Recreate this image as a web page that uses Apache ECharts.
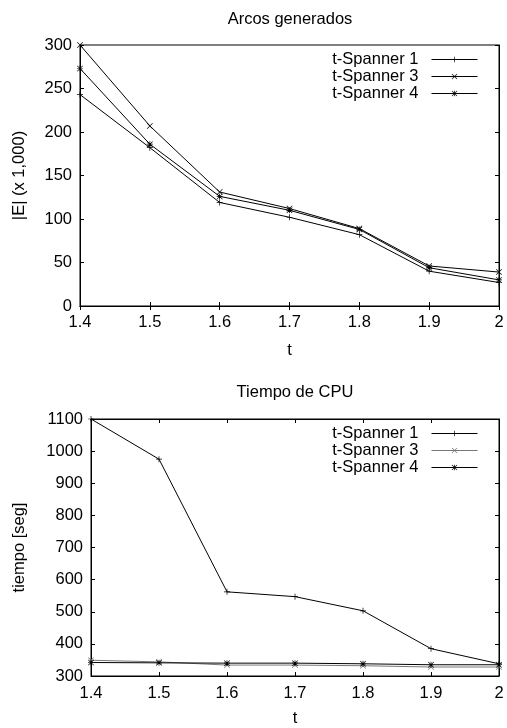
<!DOCTYPE html>
<html><head><meta charset="utf-8">
<script src="https://cdn.jsdelivr.net/npm/echarts@6/dist/echarts.min.js"></script>
<style>html,body{margin:0;padding:0;background:#fff}#c{width:507px;height:728px}</style>
</head><body><div id="c"></div>
<script>
const tValues = ['1.4','1.5','1.6','1.7','1.8','1.9','2'];
const seriesNames = ['t-Spanner 1','t-Spanner 3','t-Spanner 4'];
// Arcos generados, |E| (x 1,000)
const arcosS1 = [243, 182, 119, 102, 82, 40, 27];
const arcosS3 = [300, 207, 131, 112, 89, 46, 39];
const arcosS4 = [273, 186, 126, 110, 88, 44, 30];
// Tiempo de CPU, seg
const cpuS1 = [1100, 975, 562, 547, 503, 385, 338];
const cpuS3 = [349, 344, 334, 334, 332, 328, 328];
const cpuS4 = [342, 341, 340, 340, 338, 335, 335];

const PLUS = 'path://M0,4.4H10V5.6H0Z M4.4,0H5.6V10H4.4Z';
const CROSS = 'path://M0.8,0L5,4.2L9.2,0L10,0.8L5.8,5L10,9.2L9.2,10L5,5.8L0.8,10L0,9.2L4.2,5L0,0.8Z';
const STAR = 'path://M0,4.4H10V5.6H0Z M4.4,0H5.6V10H4.4Z M0.8,0L5,4.2L9.2,0L10,0.8L5.8,5L10,9.2L9.2,10L5,5.8L0.8,10L0,9.2L4.2,5L0,0.8Z';
const symbols = [PLUS, CROSS, STAR];

const FONT = 'Liberation Sans, Arial, sans-serif';
const txt = {color:'#000', fontFamily:FONT, fontSize:16.5};

const chart = echarts.init(document.getElementById('c'), null, {renderer:'canvas'});

const grids = [
  {left:80, right:8, top:45, height:261, show:true, borderColor:'#000', borderWidth:1},
  {left:91, right:8, top:419, height:261, show:true, borderColor:'#000', borderWidth:1}
];

function xAxes(gi, margin, gap){
  return [
    {type:'category', gridIndex:gi, data:tValues, boundaryGap:false,
     axisLine:{lineStyle:{color:'#000'}}, axisTick:{inside:true,length:4,lineStyle:{color:'#000'}},
     axisLabel:Object.assign({margin:margin}, txt), splitLine:{show:false},
     name:'t', nameLocation:'middle', nameGap:gap, nameTextStyle:txt},
    {type:'category', gridIndex:gi, data:tValues, boundaryGap:false, position:'top',
     axisLine:{lineStyle:{color:'#000'}}, axisTick:{inside:true,length:4,lineStyle:{color:'#000'}},
     axisLabel:{show:false}, splitLine:{show:false}}
  ];
}
function yAxes(gi, min, max, interval, name, gap){
  return [
    {type:'value', gridIndex:gi, min:min, max:max, interval:interval,
     axisLine:{show:true,lineStyle:{color:'#000'}}, axisTick:{show:true,inside:true,length:4,lineStyle:{color:'#000'}},
     axisLabel:Object.assign({margin:8, formatter: v => String(v)}, txt), splitLine:{show:false},
     name:name, nameLocation:'middle', nameGap:gap, nameTextStyle:txt},
    {type:'value', gridIndex:gi, min:min, max:max, interval:interval, position:'right',
     axisLine:{show:true,lineStyle:{color:'#000'}}, axisTick:{show:true,inside:true,length:4,lineStyle:{color:'#000'}},
     axisLabel:{show:false}, splitLine:{show:false}}
  ];
}

function mk(name, data, gi, idx, color){
  return {
    name:name, type:'line', data:data,
    xAxisIndex: gi*2, yAxisIndex: gi*2,
    symbol: symbols[idx], symbolSize:6, showSymbol:true,
    lineStyle:{color:color, width:1}, itemStyle:{color:color},
    animation:false, emphasis:{disabled:true}, z: 3
  };
}

const topData = [arcosS1, arcosS3, arcosS4];
const botData = [cpuS1, cpuS3, cpuS4];
const series = [];
seriesNames.forEach((n,i)=>series.push(mk(n, topData[i], 0, i, '#000')));
const botColors = ['#000','#777','#000'];
seriesNames.forEach((n,i)=>series.push(Object.assign(mk(n, botData[i], 1, i, botColors[i]), {name: n + ' '})));

function legend(top, names){
  return {
    orient:'vertical', right:29, top:top, align:'right', padding:0,
    itemWidth:46, itemHeight:7, itemGap:0,
    lineStyle:{width:1},
    textStyle:Object.assign({padding:[0,8,0,0], lineHeight:16}, txt),
    data:names, selectedMode:false,
    inactiveColor:'#000'
  };
}

chart.setOption({
  backgroundColor:'#fff',
  animation:false,
  title:[
    {text:'Arcos generados', left:290, top:11, textAlign:'center', padding:0, textStyle:Object.assign({fontWeight:'normal'}, txt)},
    {text:'Tiempo de CPU', left:295, top:384, textAlign:'center', padding:0, textStyle:Object.assign({fontWeight:'normal'}, txt)}
  ],
  legend:[
    legend(51, seriesNames),
    Object.assign(legend(425, seriesNames.map(n=>n+' ')), {formatter: n => n.trim()})
  ],
  grid:grids,
  xAxis:[...xAxes(0, 8, 36), ...xAxes(1, 9, 34)],
  yAxis:[...yAxes(0, 0, 300, 50, '|E| (x 1,000)', 52), ...yAxes(1, 300, 1100, 100, 'tiempo [seg]', 63)],
  series:series
});
</script></body></html>
